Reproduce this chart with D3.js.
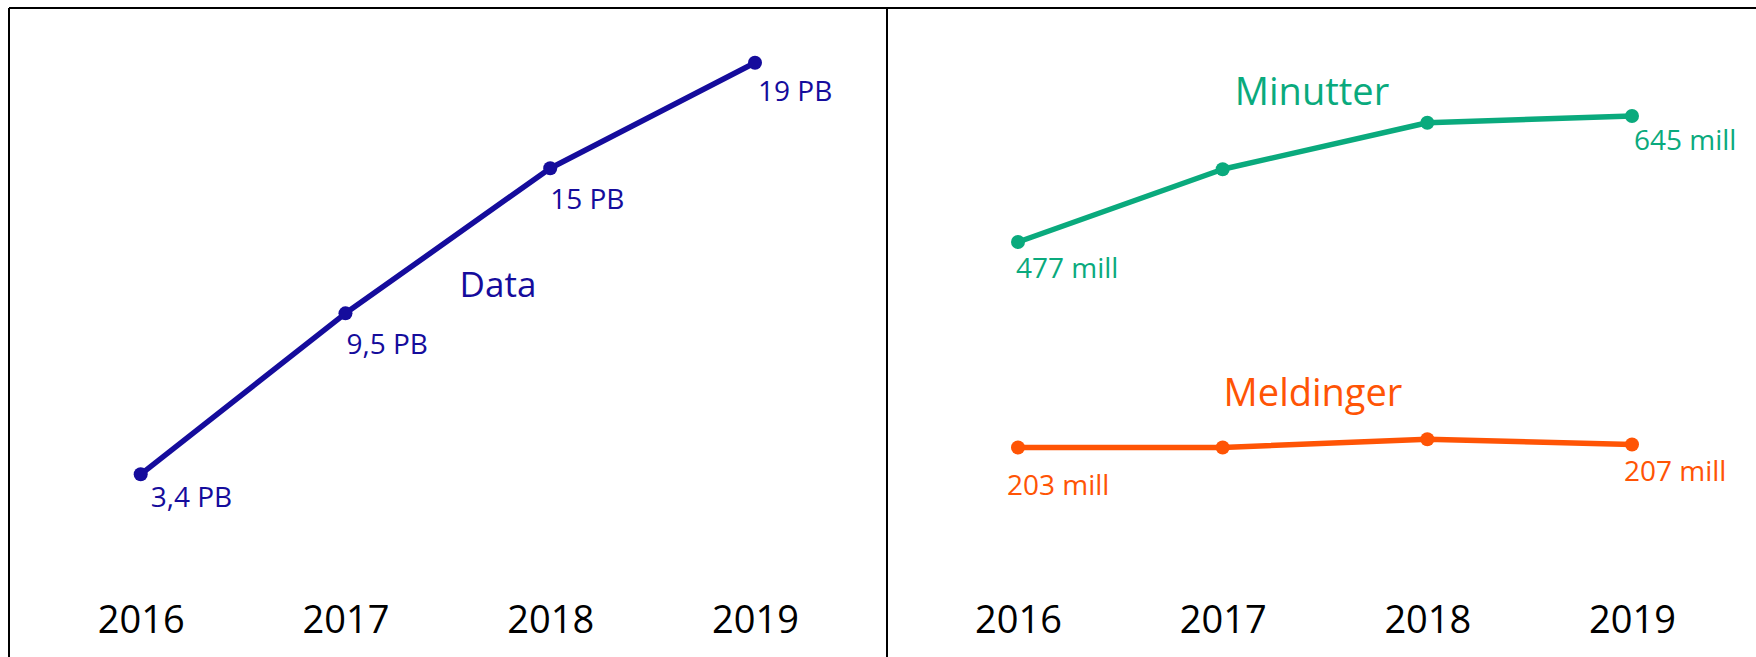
<!DOCTYPE html>
<html><head><meta charset="utf-8">
<script src="https://cdn.jsdelivr.net/npm/d3@7"></script>
<style>
html,body{margin:0;padding:0;background:#fff;}
svg{display:block;font-family:"Open Sans",sans-serif;}
</style></head>
<body>
<svg id="c" width="1756" height="657"></svg>
<script>
// ---- data ----
const years = ["2016","2017","2018","2019"];
const dataPB = [3.4, 9.5, 15, 19];
const dataLabels = ["3,4 PB","9,5 PB","15 PB","19 PB"];
const minutter = [477, 574, 636, 645];
const minutterLabels = ["477 mill", "", "", "645 mill"];
const meldinger = [203, 203, 214, 207];
const meldingerLabels = ["203 mill", "", "", "207 mill"];

// ---- layout ----
const W = 1756, H = 657;
const svg = d3.select("#c");
const cBlue = "#150c9c", cGreen = "#0aaa7d", cOrange = "#ff5405";

// frame
svg.append("line").attr("x1",9).attr("x2",W).attr("y1",8).attr("y2",8).attr("stroke","#000").attr("stroke-width",2);
svg.append("line").attr("x1",9).attr("x2",9).attr("y1",8).attr("y2",H).attr("stroke","#000").attr("stroke-width",2);
svg.append("line").attr("x1",887).attr("x2",887).attr("y1",8).attr("y2",H).attr("stroke","#000").attr("stroke-width",2);

const xL = d3.scalePoint().domain(years).range([140.7, 755]);
const xR = d3.scalePoint().domain(years).range([1018, 1632]);
const yL = d3.scaleLinear().domain([0, 20]).range([564, 564 - 20*26.385]);
const yR = d3.scaleLinear().domain([0, 700]).range([599.75, 599.75 - 700*0.75]);

function series(x, y, vals, labels, color, offs) {
  const pts = years.map((yr,i)=>({yr, v:vals[i], lab:labels[i]}));
  const line = d3.line().x(d=>x(d.yr)).y(d=>y(d.v));
  svg.append("path").datum(pts).attr("d", line).attr("fill","none")
     .attr("stroke", color).attr("stroke-width", 5.5).attr("stroke-linejoin","round");
  svg.selectAll(null).data(pts).enter().append("circle")
     .attr("cx", d=>x(d.yr)).attr("cy", d=>y(d.v)).attr("r", 7).attr("fill", color);
  svg.selectAll(null).data(pts.map((d,i)=>({...d, o:offs[i]}))).enter().append("text")
     .attr("x", d=>x(d.yr)+d.o[0]).attr("y", d=>y(d.v)+d.o[1])
     .attr("fill", color).attr("font-size", 28).text(d=>d.lab);
}

series(xL, yL, dataPB, dataLabels, cBlue, [[10,33],[1,41],[0,41],[3,38]]);
series(xR, yR, minutter, minutterLabels, cGreen, [[-2,36],[0,0],[0,0],[2,34]]);
series(xR, yR, meldinger, meldingerLabels, cOrange, [[-11,47],[0,0],[0,0],[-8,36]]);

// series titles
svg.append("text").attr("x", 498).attr("y", 297).attr("text-anchor","middle")
   .attr("fill", cBlue).attr("font-size", 35).text("Data");
svg.append("text").attr("x", 1312).attr("y", 105).attr("text-anchor","middle")
   .attr("fill", cGreen).attr("font-size", 38).text("Minutter");
svg.append("text").attr("x", 1313).attr("y", 406).attr("text-anchor","middle")
   .attr("fill", cOrange).attr("font-size", 38).text("Meldinger");

// year axes
const axL = d3.axisBottom(xL).tickSize(0).tickPadding(0);
const axR = d3.axisBottom(xR).tickSize(0).tickPadding(0);
[axL, axR].forEach(ax=>{
  const g = svg.append("g").attr("transform","translate(0,633)").call(ax);
  g.select(".domain").remove();
  g.selectAll("text").attr("dy", 0).attr("font-size", 38).attr("fill","#000")
   .attr("font-family","\"Open Sans\",sans-serif");
});
</script>
</body></html>
